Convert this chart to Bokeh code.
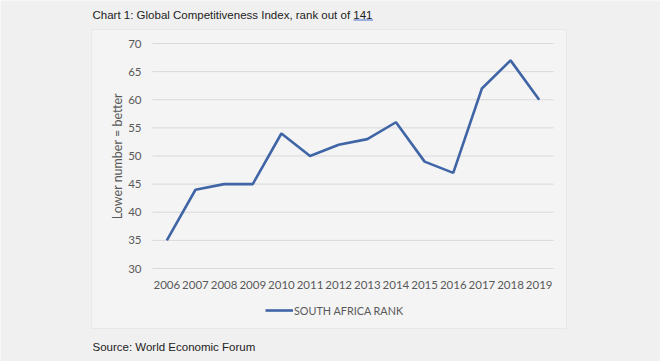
from bokeh.plotting import figure
from bokeh.models import Legend, LegendItem, FixedTicker, Range1d, Label, BoxAnnotation
from bokeh.embed import file_html
from bokeh.resources import INLINE

years = [2006, 2007, 2008, 2009, 2010, 2011, 2012, 2013, 2014, 2015, 2016, 2017, 2018, 2019]
rank = [35, 44, 45, 45, 54, 50, 52, 53, 56, 49, 47, 62, 67, 60]
y_ticks = [30, 35, 40, 45, 50, 55, 60, 65, 70]
series_name = "SOUTH AFRICA RANK"
title_text = "Chart 1: Global Competitiveness Index, rank out of 141"
source_text = "Source: World Economic Forum"
y_label = "Lower number = better"

W, H = 660, 361
# plot-area placement inside the canvas (pixels from top-left)
PL, PR, PT, PB = 152, 553, 43, 268
x0, x1 = years[0] - 0.5, years[-1] + 0.5
y0, y1 = y_ticks[0], y_ticks[-1]
sx = (PR - PL) / (x1 - x0)
sy = (PB - PT) / (y1 - y0)

p = figure(width=W, height=H, output_backend="svg", toolbar_location=None,
           x_range=Range1d(x0 - PL / sx, x1 + (W - PR) / sx),
           y_range=Range1d(y0 - (H - PB) / sy, y1 + PT / sy),
           min_border_left=0, min_border_right=0, min_border_top=0, min_border_bottom=0)
p.title.visible = False
p.background_fill_color = "#f0f0f0"
p.border_fill_color = "#f0f0f0"
p.outline_line_color = None
p.xgrid.grid_line_color = None
p.ygrid.grid_line_color = None

def scr(top_px):
    """convert a distance from the canvas top into a screen y (from bottom)"""
    return H - top_px

# chart box
p.add_layout(BoxAnnotation(left=91, right=566, bottom=scr(328), top=scr(29),
                           left_units="screen", right_units="screen",
                           bottom_units="screen", top_units="screen",
                           fill_color="#f4f4f4", fill_alpha=1,
                           line_color="#d2d2d2", line_width=1, level="underlay"))

# horizontal gridlines
n = len(y_ticks)
p.segment(x0=[x0] * n, y0=y_ticks, x1=[x1] * n, y1=y_ticks,
          line_color="#d9d9d9", line_width=1)

r = p.line(years, rank, line_color="#3f65a6", line_width=2.6)

p.xaxis.ticker = FixedTicker(ticks=years)
p.yaxis.ticker = FixedTicker(ticks=y_ticks)
p.xaxis.fixed_location = y0
p.yaxis.fixed_location = x0
p.xaxis.bounds = (x0, x1)
p.yaxis.bounds = (y0, y1)
for ax in (p.xaxis[0], p.yaxis[0]):
    ax.axis_line_color = None
    ax.major_tick_line_color = None
    ax.minor_tick_line_color = None
    ax.major_tick_out = 0
    ax.major_tick_in = 0
    ax.major_label_text_font = "Lato"
    ax.major_label_text_font_size = "11.5px"
    ax.major_label_text_color = "#595959"
p.xaxis.major_label_standoff = 12
p.yaxis.major_label_standoff = 11
p.yaxis.axis_label = y_label
p.yaxis.axis_label_text_font = "Lato"
p.yaxis.axis_label_text_font_size = "12.5px"
p.yaxis.axis_label_text_font_style = "normal"
p.yaxis.axis_label_text_color = "#595959"
p.yaxis.axis_label_standoff = 0

legend = Legend(items=[LegendItem(label=series_name, renderers=[r])],
                location=(265, scr(320)), orientation="horizontal",
                background_fill_alpha=0, border_line_color=None,
                padding=0, margin=0, glyph_width=28, glyph_height=20,
                label_standoff=1, label_text_font="Lato", label_text_font_size="10.8px",
                label_text_color="#595959")
p.add_layout(legend, "center")

p.add_layout(Label(x=92, y=scr(14.5), x_units="screen", y_units="screen", text=title_text,
                   text_font="Liberation Sans", text_font_size="11.5px", text_color="#222222",
                   text_baseline="alphabetic"))
# underline below "141"
p.add_layout(BoxAnnotation(left=353, right=372.5, bottom=scr(20), top=scr(19),
                           left_units="screen", right_units="screen",
                           bottom_units="screen", top_units="screen",
                           fill_color="#4a6fd0", fill_alpha=1, line_color=None))
p.add_layout(Label(x=92, y=scr(346.5), x_units="screen", y_units="screen", text=source_text,
                   text_font="Liberation Sans", text_font_size="11.5px", text_color="#222222",
                   text_baseline="alphabetic"))

open("out.html", "w").write(file_html(p, INLINE))
